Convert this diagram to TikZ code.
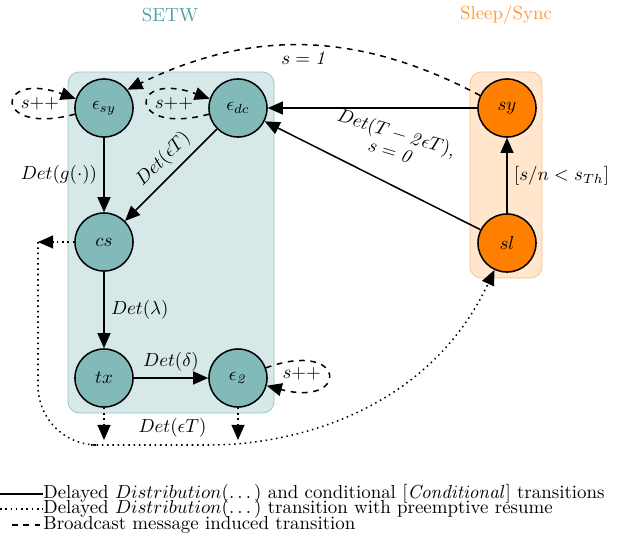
\documentclass[tikz,border=0pt]{standalone}
\usepackage{amsmath,amssymb}
\usepackage{tikz}
\usetikzlibrary{positioning, arrows.meta}

\definecolor{setwfill}{RGB}{214,232,232}
\definecolor{setwline}{RGB}{150,196,196}
\definecolor{setwnode}{RGB}{130,185,185}
\definecolor{setwtext}{RGB}{80,160,160}
\definecolor{sleepfill}{RGB}{255,230,204}
\definecolor{sleepline}{RGB}{255,190,130}
\definecolor{sleepnode}{RGB}{255,128,0}
\definecolor{sleeptext}{RGB}{255,153,51}

\tikzset{
  setwstate/.style={circle, draw, thick, fill=setwnode, minimum size=1.08cm, inner sep=0pt},
  sleepstate/.style={circle, draw, thick, fill=sleepnode, minimum size=1.08cm, inner sep=0pt},
  trans/.style={->, thick},
  preempt/.style={->, thick, dotted},
  bcast/.style={->, thick, dashed},
}

\begin{document}
\begin{tikzpicture}[x=0.0186cm, y=0.0186cm, >={Triangle[length=2.8mm,width=2.4mm]}]
    \useasboundingbox (0,0) rectangle (628,-540);

    % boxes
    \draw[setwline, fill=setwfill, rounded corners=6pt] (68,-72) rectangle (274,-413);
    \draw[sleepline, fill=sleepfill, rounded corners=6pt] (470,-72) rectangle (542,-278);
    \node[text=setwtext] (setwtitle) at (170,-15) {SETW};
    \node[text=sleeptext] (sleeptitle) at (506,-15) {Sleep/Sync};

    % states
    \node[setwstate] (esy) at (104,-108) {$\epsilon_{sy}$};
    \node[setwstate] (edc) at (238,-108) {$\epsilon_{dc}$};
    \node[setwstate] (cs) at (104,-242) {$cs$};
    \node[setwstate] (tx) at (104,-378) {$tx$};
    \node[setwstate] (etwo) at (238,-378) {$\epsilon_{\mathit{2}}$};
    \node[sleepstate] (sy) at (507,-108) {$sy$};
    \node[sleepstate] (sl) at (507,-243) {$sl$};

    % free ends of the preemptive transitions
    \coordinate (csw) at (38,-242);
    \coordinate (txs) at (104,-440);
    \coordinate (etwos) at (238,-440);
    \coordinate (bottom) at (150,-445);

    % delayed transitions
    \draw[trans] (esy) -- node[left] {$Det(g(\cdot))$} (cs);
    \draw[trans] (edc) -- node[sloped, above, xshift=3pt] {$Det(\epsilon T)$} (cs);
    \draw[trans] (cs) -- node[right] {$Det(\lambda)$} (tx);
    \draw[trans] (tx) -- node[above] {$Det(\delta)$} (etwo);
    \draw[trans] (sy) -- (edc);
    \draw[trans] (sl) -- (edc);
    \node[rotate=-17, align=center] (sllabel) at (394,-141)
        {$Det(T-\mathit{2}\epsilon T)$,\\[-2pt] $s=\mathit{0}$};
    \draw[trans] (sl) -- node[right] {$[s/n<s_{Th}]$} (sy);

    % broadcast
    \draw[bcast] (sy.155) to[bend right=27] node[below] {$s=\mathit{1}$} (esy.38);
    \draw[bcast] (esy.192) to[out=195, in=160, min distance=1.6cm] node[right] {$s{+}{+}$} (esy.162);
    \draw[bcast] (edc.192) to[out=195, in=160, min distance=1.6cm] node[right] {$s{+}{+}$} (edc.162);
    \draw[bcast] (etwo.20) to[out=20, in=-15, min distance=1.6cm] node[left] {$s{+}{+}$} (etwo.-15);

    % preemptive resume
    \draw[preempt] (cs) -- (csw);
    \draw[preempt] (tx) -- (txs);
    \draw[preempt] (etwo) -- (etwos);
    \draw[preempt, rounded corners=1.1cm] (csw) |- (bottom)
        to[out=0, in=245] node[pos=0.05, above] {$Det(\epsilon T)$} (sl);

    % legend
    \node[anchor=west, inner sep=0pt] (leg1) at (43,-494) {Delayed $Distribution(\dots)$ and conditional $[\mathit{Conditional}]$ transitions};
    \node[anchor=west, inner sep=0pt] (leg2) at (43,-509) {Delayed $Distribution(\dots)$ transition with preemptive resume};
    \node[anchor=west, inner sep=0pt] (leg3) at (43,-525) {Broadcast message induced transition};
    \coordinate (l1) at (0,-494);
    \coordinate (l2) at (0,-509);
    \coordinate (l3) at (12,-525);
    \draw[thick] (l1) -- (leg1);
    \draw[thick, dotted] (l2) -- (leg2);
    \draw[thick, dashed] (l3) -- (leg3);
\end{tikzpicture}
\end{document}
